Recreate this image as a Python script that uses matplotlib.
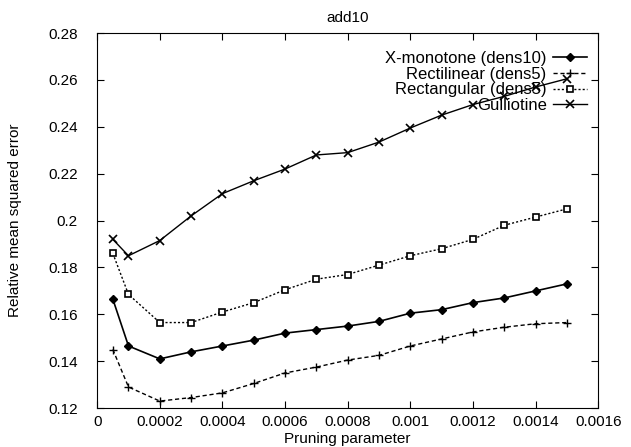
import numpy as np
import matplotlib.pyplot as plt

plt.rcParams['font.family'] = ['Liberation Sans', 'DejaVu Sans']

# pruning parameter values
x = [0.00005, 0.0001, 0.0002, 0.0003, 0.0004, 0.0005, 0.0006, 0.0007,
     0.0008, 0.0009, 0.001, 0.0011, 0.0012, 0.0013, 0.0014, 0.0015]

xmono = [0.1665, 0.1465, 0.141, 0.144, 0.1465, 0.149, 0.152, 0.1535,
         0.155, 0.157, 0.1605, 0.162, 0.165, 0.167, 0.170, 0.173]
rectil = [0.145, 0.129, 0.123, 0.1245, 0.1265, 0.1305, 0.135, 0.1375,
          0.1405, 0.1425, 0.1465, 0.1495, 0.1525, 0.1545, 0.156, 0.1565]
rectang = [0.186, 0.1685, 0.1565, 0.1565, 0.161, 0.165, 0.1705, 0.175,
           0.177, 0.181, 0.185, 0.188, 0.192, 0.198, 0.2015, 0.205]
guill = [0.192, 0.185, 0.1915, 0.202, 0.2115, 0.217, 0.222, 0.228,
         0.229, 0.2335, 0.2395, 0.245, 0.2495, 0.253, 0.257, 0.2605]

labels = ["X-monotone (dens10)", "Rectilinear (dens5)",
          "Rectangular (dens5)", "Gulliotine"]

fig = plt.figure(figsize=(6.31, 4.47), dpi=100)
ax = fig.add_axes([0.154, 0.087, 0.794, 0.839])

ax.plot(x, xmono, color='black', lw=1.2, ls='-', marker='D', ms=4, label=labels[0])
ax.plot(x, rectil, color='black', lw=1, ls=(0, (3, 2)), marker='+', ms=6, label=labels[1])
ax.plot(x, rectang, color='black', lw=1, ls=(0, (1.5, 1.5)), marker='s', ms=4.5,
        mfc='white', mew=1.2, label=labels[2])
ax.plot(x, guill, color='black', lw=1, ls='-', marker='x', ms=6, mew=1.2, label=labels[3])

ax.set_xlim(0, 0.0016)
ax.set_ylim(0.12, 0.28)
ax.set_xticks(np.arange(0, 0.00161, 0.0002))
ax.set_xticklabels(['0', '0.0002', '0.0004', '0.0006', '0.0008', '0.001',
                    '0.0012', '0.0014', '0.0016'])
ax.set_yticks(np.arange(0.12, 0.281, 0.02))
ax.set_yticklabels(['0.12', '0.14', '0.16', '0.18', '0.2', '0.22', '0.24', '0.26', '0.28'])
ax.tick_params(direction='in', top=True, right=True, length=5, labelsize=11)
ax.tick_params(axis='y', pad=14)
ax.tick_params(axis='x', pad=5)

ax.set_title('add10', fontsize=11, pad=8)
ax.set_xlabel('Pruning parameter', fontsize=11, labelpad=2)
ax.set_ylabel('Relative mean squared error', fontsize=11, labelpad=19)

ax.legend(loc='upper right', bbox_to_anchor=(1.0, 0.984), frameon=False,
          markerfirst=False, fontsize=12, handlelength=2.0, labelspacing=0.05,
          borderaxespad=0.3, handletextpad=0.4)

fig.savefig('out.png', dpi=100)
